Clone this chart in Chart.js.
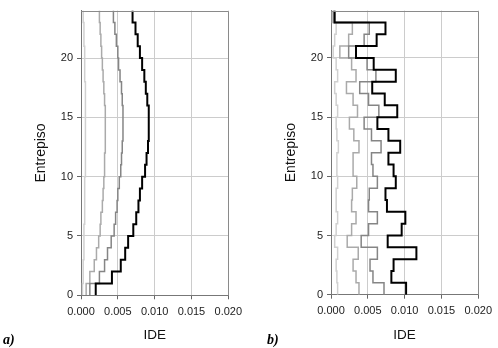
<!DOCTYPE html>
<html>
<head>
<meta charset="utf-8">
<script src="https://cdn.jsdelivr.net/npm/chart.js@4.4.1/dist/chart.umd.min.js"></script>
<style>
  html, body { margin: 0; padding: 0; background: #fff; }
  #wrap { position: relative; width: 498px; height: 348px; overflow: hidden; }
  .box { position: absolute; top: 0; height: 348px; }
</style>
</head>
<body>
<div id="wrap">
  <div class="box" style="left:0;width:250px"><canvas id="chart-a"></canvas></div>
  <div class="box" style="left:250px;width:248px"><canvas id="chart-b"></canvas></div>
</div>
<script>
// Stories (entrepiso) 1..24
const stories = [1,2,3,4,5,6,7,8,9,10,11,12,13,14,15,16,17,18,19,20,21,22,23,24];

// Axis ticks
const xTicks = [0, 0.005, 0.010, 0.015, 0.020];
const yTicks = [0, 5, 10, 15, 20];

// Panel a) - drift (IDE) per story, four profiles
const a_black  = [0.0020,0.0042,0.0054,0.0060,0.0064,0.0071,0.0075,0.0078,0.0080,0.0083,0.0087,0.0089,0.0091,0.0092,0.0092,0.0092,0.0090,0.0088,0.0086,0.0083,0.0080,0.0077,0.0074,0.0070];
const a_medium = [0.0012,0.0025,0.0032,0.0036,0.0041,0.0045,0.0047,0.0049,0.0050,0.0052,0.0054,0.0055,0.0056,0.0057,0.0057,0.0057,0.0056,0.0055,0.0053,0.0051,0.0050,0.0048,0.0046,0.0044];
const a_light  = [0.0007,0.0012,0.0018,0.0021,0.0024,0.0026,0.0027,0.0029,0.0030,0.0031,0.0032,0.0032,0.0033,0.0033,0.0033,0.0033,0.0032,0.0031,0.0030,0.0029,0.0028,0.0027,0.0026,0.0025];
const a_faint  = [0.0002,0.0003,0.0003,0.0004,0.0004,0.0004,0.0005,0.0005,0.0005,0.0005,0.0006,0.0006,0.0006,0.0006,0.0006,0.0006,0.0006,0.0006,0.0005,0.0005,0.0005,0.0004,0.0004,0.0003];

// Panel b)
const b_black  = [0.0102,0.0082,0.0085,0.0116,0.0077,0.0096,0.0101,0.0076,0.0074,0.0088,0.0085,0.0078,0.0094,0.0078,0.0063,0.0090,0.0073,0.0056,0.0088,0.0058,0.0034,0.0062,0.0074,0.0005];
const b_medium = [0.0072,0.0057,0.0053,0.0063,0.0041,0.0051,0.0063,0.0051,0.0052,0.0063,0.0057,0.0055,0.0068,0.0055,0.0045,0.0065,0.0051,0.0039,0.0061,0.0049,0.0024,0.0045,0.0052,0.0004];
const b_light  = [0.0038,0.0034,0.0030,0.0037,0.0022,0.0028,0.0034,0.0028,0.0029,0.0035,0.0030,0.0030,0.0038,0.0031,0.0025,0.0036,0.0030,0.0021,0.0034,0.0028,0.0012,0.0024,0.0029,0.0003];
const b_faint  = [0.0009,0.0008,0.0007,0.0009,0.0005,0.0007,0.0009,0.0007,0.0007,0.0009,0.0008,0.0008,0.0010,0.0008,0.0007,0.0009,0.0007,0.0005,0.0009,0.0007,0.0003,0.0005,0.0007,0.0002];

const lineColors = ['#000000', '#858585', '#aaaaaa', '#d0d0d0'];
const lineWidths = [2, 1.5, 1.5, 1.5];

// each story value holds from floor (story-1) up to story
function stepPoints(values) {
  const pts = values.map((v, i) => ({ x: v, y: stories[i] - 1 }));
  pts.push({ x: values[values.length - 1], y: stories[stories.length - 1] });
  return pts;
}

// top & right border of the plot box + panel letter
const framePlugin = {
  id: 'frame',
  afterDraw(chart, args, opts) {
    const { ctx, chartArea: a } = chart;
    ctx.save();
    ctx.strokeStyle = '#8a8a8a';
    ctx.lineWidth = 1;
    ctx.beginPath();
    ctx.moveTo(a.left, Math.round(a.top) + 0.5);
    ctx.lineTo(Math.round(a.right) + 0.5, Math.round(a.top) + 0.5);
    ctx.lineTo(Math.round(a.right) + 0.5, a.bottom);
    ctx.stroke();
    ctx.fillStyle = '#000';
    ctx.font = 'italic bold 14px "Liberation Serif", serif';
    ctx.textBaseline = 'middle';
    ctx.fillText(opts.text, opts.x, opts.y);
    ctx.restore();
  }
};

function makeChart(id, series, letter, geom) {
  return new Chart(document.getElementById(id), {
    type: 'scatter',
    data: {
      datasets: series.map((s, i) => ({
        data: stepPoints(s),
        showLine: true,
        stepped: 'after',
        borderColor: lineColors[i],
        borderWidth: lineWidths[i],
        pointRadius: 0,
        pointHoverRadius: 0
      }))
    },
    options: {
      responsive: true,
      maintainAspectRatio: false,
      animation: false,
      layout: { padding: { top: geom.top, right: geom.right, left: 0, bottom: 0 } },
      plugins: {
        legend: { display: false },
        tooltip: { enabled: false },
        frame: { text: letter, x: geom.letterX, y: 340 }
      },
      scales: {
        x: {
          type: 'linear',
          min: 0,
          max: 0.02,
          afterBuildTicks: (scale) => { scale.ticks = xTicks.map(v => ({ value: v })); },
          afterFit: (scale) => { scale.height = geom.xHeight; },
          ticks: {
            color: '#222',
            padding: 6,
            font: { family: '"Liberation Sans", Arial, sans-serif', size: 11 },
            callback: (v) => Number(v).toFixed(3)
          },
          grid: { color: '#cccccc', tickColor: '#666', tickLength: 4 },
          border: { color: '#777', width: 1 },
          title: {
            display: true,
            text: 'IDE',
            color: '#111',
            font: { family: '"Liberation Sans", Arial, sans-serif', size: 13.5 },
            padding: { top: 0, bottom: 5 }
          }
        },
        y: {
          type: 'linear',
          min: 0,
          max: 24,
          afterBuildTicks: (scale) => { scale.ticks = yTicks.map(v => ({ value: v })); },
          afterFit: (scale) => { scale.width = 81; },
          ticks: {
            color: '#222',
            padding: 4,
            font: { family: '"Liberation Sans", Arial, sans-serif', size: 11 }
          },
          grid: { color: '#cccccc', tickColor: '#666', tickLength: 4 },
          border: { color: '#777', width: 1 },
          title: {
            display: true,
            text: 'Entrepiso',
            color: '#111',
            font: { family: '"Liberation Sans", Arial, sans-serif', size: 14 },
            padding: { top: 33, bottom: 0 }
          }
        }
      }
    },
    plugins: [framePlugin]
  });
}

makeChart('chart-a', [a_black, a_medium, a_light, a_faint], 'a)',
  { top: 9, right: 21.7, xHeight: 52.7, letterX: 3 });
makeChart('chart-b', [b_black, b_medium, b_light, b_faint], 'b)',
  { top: 4.7, right: 18, xHeight: 53.3, letterX: 17 });
</script>
</body>
</html>
